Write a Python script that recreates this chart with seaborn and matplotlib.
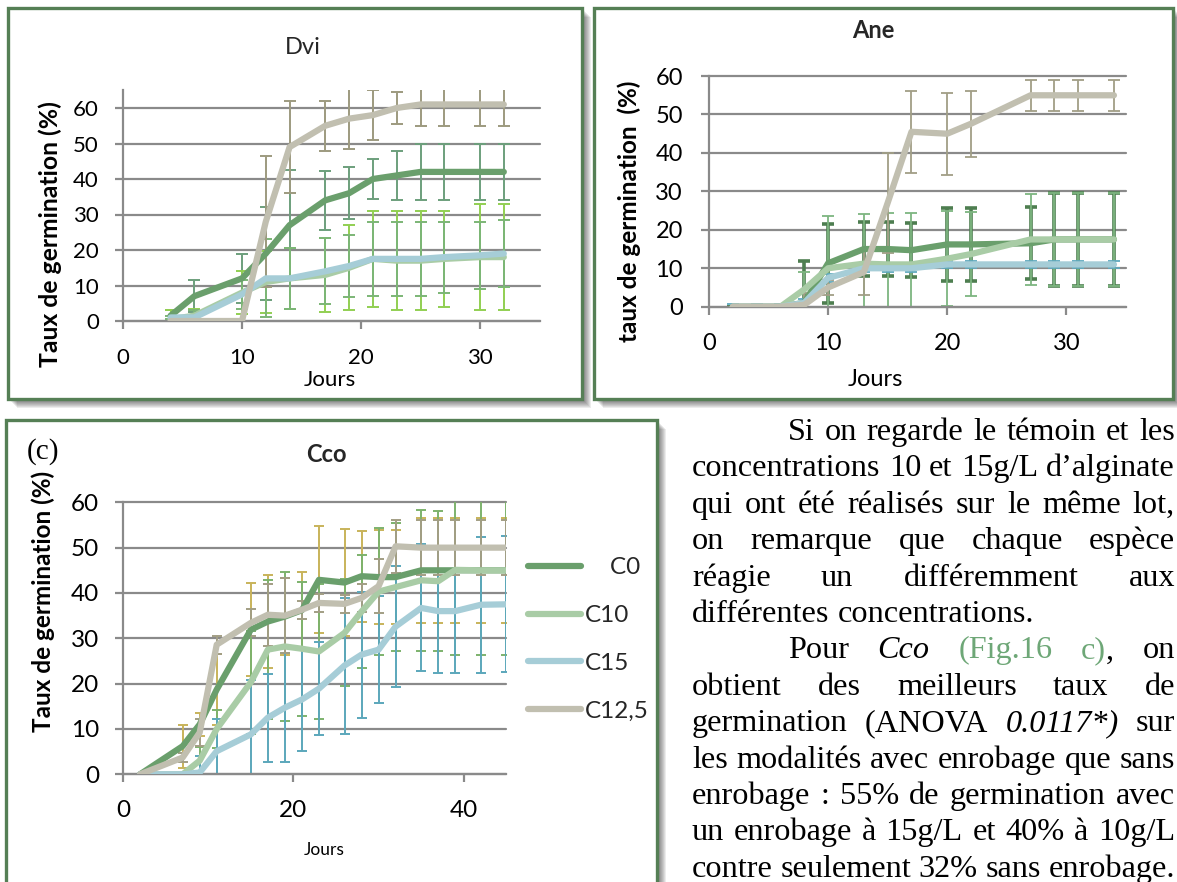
import re
import pandas as pd
import seaborn as sns
import matplotlib
matplotlib.use('Agg')
from matplotlib import pyplot as plt
from matplotlib.patches import Rectangle

W, H = 1177, 882

# ---------------- data ----------------
series = ['C0', 'C10', 'C15', 'C12,5']

# Dvi
dvi_days = [4, 6, 10, 12, 14, 17, 19, 21, 23, 25, 27, 30, 32]
dvi_c0 = [1.5, 7, 12, 19, 27, 34, 36, 40, 41, 42, 42, 42, 42]
dvi_c0_err = [1.5, 4.5, 7, 13, 15.5, 8.3, 7.3, 5.6, 6.8, 7.8, 7.8, 7.8, 7.8]
dvi_c10 = [0.5, 1.5, 8, 11, 12, 13, 15, 17.5, 17, 17, 17.5, 18, 18]
dvi_c10_err = [2.5, 2, 6, 8.7, 8.6, 10.5, 12, 13.5, 14, 14, 13.5, 15, 15]
dvi_c15 = [1, 1, 7.5, 12, 12, 14, 15.5, 17.5, 17.5, 17.5, 18, 18.5, 19]
dvi_c15_err = [0.5, 2, 4, 11, 8.6, 9.3, 8.6, 10.5, 10.5, 10.5, 10, 9.5, 9.5]
dvi_c125 = [0, 0, 0, 28, 49, 55, 57, 58, 60, 61, 61, 61, 61]
dvi_c125_err = [0, 0, 0, 18.5, 13, 7, 8.5, 7, 4.5, 6, 6, 6, 6]

# Ane
ane_days = [2, 4, 6, 8, 10, 13, 15, 17, 20, 22, 27, 29, 31, 34]
ane_c0 = [0, 0, 0, 1, 11.3, 15, 15, 14.7, 16.2, 16.2, 16.5, 17.5, 17.5, 17.5]
ane_c0_err = [0, 0, 0, 11, 10.3, 7, 7, 7, 9.4, 9.4, 9.4, 12, 12, 12]
ane_c10 = [0, 0, 0, 4.5, 10, 11.2, 11, 11, 12.5, 13.7, 17.5, 17.5, 17.5, 17.5]
ane_c10_err = [0, 0, 0, 4.5, 13.5, 13, 13.5, 13.5, 12.3, 11, 11.8, 12, 12, 12]
ane_c15 = [0, 0, 0, 1, 7.5, 10, 10, 10, 11, 11, 11, 11, 11, 11]
ane_c15_err = [0.8, 0.8, 0.8, 1, 1, 1, 1, 1, 1, 1, 1, 1, 1, 1]
ane_c125 = [0, 0, 0, 0.5, 5, 9, 27, 45.5, 45, 47.6, 55, 55, 55, 55]
ane_c125_err = [0, 0, 0, 3, 2, 6, 13, 10.7, 10.7, 8.6, 4, 4, 4, 4]

# Cco
cco_days = [2, 7, 9, 11, 15, 17, 19, 21, 23, 26, 28, 30, 32, 35, 37, 39, 42, 45]
cco_c0 = [0, 6.2, 11, 18.7, 31.9, 33.7, 34.8, 36.2, 42.9, 42.3, 43.7, 43.5, 43.5, 45, 45, 45, 45, 45]
cco_c0_err = [0, 4.7, 2.6, 7.8, 10.3, 10.3, 8.5, 8.5, 11.8, 11.9, 10, 10.3, 10.3, 11.6, 11.6, 11.6, 11.6, 11.6]
cco_c10 = [0, 0, 3, 10, 20.3, 27.5, 28.2, 27.7, 27.1, 31.2, 35.9, 40.3, 41.3, 42.8, 42.6, 45.1, 45, 45]
cco_c10_err = [0, 0, 3, 4.2, 11.4, 15.3, 16.5, 14.8, 14.8, 11.8, 12.5, 14, 14.2, 15.5, 15.5, 18.7, 18.7, 18.7]
cco_c15 = [0, 0, 0.4, 5.1, 8.8, 12.5, 14.7, 16.5, 18.9, 24, 26.4, 27.5, 32.6, 36.7, 36, 36, 37.4, 37.5]
cco_c15_err = [0, 0, 3.6, 7.2, 12, 9.7, 12, 11.3, 10.3, 15, 13.9, 11.8, 13.3, 14, 13.6, 13.6, 15, 15]
cco_c125 = [0, 3.7, 9.2, 28.6, 33.4, 35.2, 35, 36.3, 37.8, 37.6, 38.9, 41.5, 50.3, 50, 50, 50, 50, 50]
cco_c125_err = [0, 1, 3, 2, 3, 6.8, 8.2, 2, 2, 2, 3, 6, 5.8, 6, 6, 6, 6, 6]

para_lines = [
    "Si on regarde le témoin et les",
    "concentrations 10 et 15g/L d’alginate",
    "qui ont été réalisés sur le même lot,",
    "on remarque que chaque espèce",
    "réagie un différemment aux",
    "différentes concentrations.",
    "Pour _Cco_ {(Fig.16} {c)}, on",
    "obtient des meilleurs taux de",
    "germination (ANOVA _0.0117*)_ sur",
    "les modalités avec enrobage que sans",
    "enrobage : 55% de germination avec",
    "un enrobage à 15g/L et 40% à 10g/L",
    "contre seulement 32% sans enrobage.",
]

# ---------------- styling ----------------
line_colors = ['#6a9f6c', '#a9cca6', '#a6cdd7', '#c1bfb0']
GRID = '#8a8a8a'
FRAME = '#557f55'
TEXT_GREEN = '#6ea777'

sns.set_theme(style='white')
plt.rcParams['font.family'] = ['Lato', 'DejaVu Sans']


def long_frame(days, c0, c10, c15, c125):
    parts = [pd.DataFrame({'Jours': days, 'taux': vals, 'serie': name})
             for name, vals in zip(series, [c0, c10, c15, c125])]
    return pd.concat(parts, ignore_index=True)


def ax_rect(x0, x1, ytop, ybot):
    return [x0 / W, 1 - ybot / H, (x1 - x0) / W, (ybot - ytop) / H]


def panel_frame(bg, x0, y0, x1, y1):
    # soft grey drop shadow, then the framed white panel
    for k in range(1, 10):
        bg.add_patch(Rectangle((x0 + k, y0 + k), x1 - x0, y1 - y0,
                               facecolor='black', alpha=0.075, lw=0))
    bg.add_patch(Rectangle((x0, y0), x1 - x0, y1 - y0, facecolor='white',
                           edgecolor=FRAME, lw=2.4))


def draw_chart(ax, df, errs, err_styles, xlim, xticks, ylim, tick_size, pads):
    sns.lineplot(data=df, x='Jours', y='taux', hue='serie', hue_order=series,
                 palette=line_colors, linewidth=4.5, sort=False, estimator=None,
                 legend=False, ax=ax)
    lines = list(ax.lines)
    for ln in lines:
        ln.set_zorder(3)
        ln.set_solid_capstyle('round')
        ln.set_solid_joinstyle('round')
    for name, err, (col, lw, cap) in zip(series, errs, err_styles):
        sub = df[df['serie'] == name]
        ax.errorbar(sub['Jours'], sub['taux'], yerr=err, fmt='none', ecolor=col,
                    elinewidth=lw, capsize=cap, capthick=lw, zorder=2)
    ax.set_xlim(*xlim)
    ax.set_ylim(*ylim)
    ax.set_xticks(xticks)
    ax.set_yticks(range(0, 70, 10))
    ax.set_facecolor('none')
    for side in ('top', 'right'):
        ax.spines[side].set_visible(False)
    for side in ('left', 'bottom'):
        ax.spines[side].set_color(GRID)
        ax.spines[side].set_linewidth(1.6)
    ax.grid(axis='y', color=GRID, linewidth=1.6)
    for gl in ax.get_ygridlines():
        gl.set_clip_on(False)
    ax.tick_params(axis='both', which='major', direction='out', length=5.8, width=1.6,
                   color=GRID, labelsize=tick_size, labelcolor='black',
                   bottom=True, left=True)
    ax.tick_params(axis='y', pad=pads[0])
    ax.tick_params(axis='x', pad=pads[1])
    return lines


def place_labels(ax, bg, title, title_xy, title_kw, xlabel, xlabel_xy, xlabel_size,
                 ylabel, ylabel_xy, ylabel_size):
    t = ax.set_title(title, y=1.0, pad=0, va='center', **title_kw)
    t.set_transform(bg.transData)
    t.set_position(title_xy)
    ax.set_xlabel(xlabel, fontsize=xlabel_size, color='black')
    ax.xaxis.set_label_coords(*xlabel_xy, transform=bg.transData)
    ax.xaxis.label.set_va('center')
    ax.set_ylabel(ylabel, fontsize=ylabel_size, fontweight='bold', color='black')
    ax.yaxis.set_label_coords(*ylabel_xy, transform=bg.transData)
    ax.yaxis.label.set_va('center')


fig = plt.figure(figsize=(W / 100, H / 100), dpi=100)
fig.patch.set_facecolor('white')

bg = fig.add_axes([0, 0, 1, 1], zorder=0)
bg.set_xlim(0, W)
bg.set_ylim(H, 0)
bg.axis('off')

panel_frame(bg, 8, 8, 582, 399)
panel_frame(bg, 594, 8, 1173, 399)
panel_frame(bg, 6, 420, 657, 900)

# ---- Dvi ----
ax1 = fig.add_axes(ax_rect(123, 123 + 35 * 11.9, 321 - 65 * 3.55, 321), zorder=1)
draw_chart(ax1, long_frame(dvi_days, dvi_c0, dvi_c10, dvi_c15, dvi_c125),
           [dvi_c0_err, dvi_c10_err, dvi_c15_err, dvi_c125_err],
           [('#6d9f7c', 1.4, 4.3), ('#92cf52', 1.4, 4.3),
            ('#7cb676', 1.4, 4.3), ('#9d9a7f', 1.4, 4.3)],
           (0, 35), [0, 10, 20, 30], (0, 65), 16, (11.5, 13.5))
place_labels(ax1, bg, 'Dvi', (303, 48), dict(fontsize=17),
             'Jours', (330, 380), 16,
             'Taux de germination (%)', (50, 234), 17.8)

# ---- Ane ----
ax2 = fig.add_axes(ax_rect(709, 709 + 35 * 11.91, 306.7 - 60 * 3.844, 306.7), zorder=1)
draw_chart(ax2, long_frame(ane_days, ane_c0, ane_c10, ane_c15, ane_c125),
           [ane_c0_err, ane_c10_err, ane_c15_err, ane_c125_err],
           [('#4e7e50', 2.6, 4.3), ('#7db580', 1.3, 4.3),
            ('#5fa9be', 1.3, 4.3), ('#a19e86', 1.3, 4.3)],
           (0, 35), [0, 10, 20, 30], (0, 60), 17, (13, 13))
place_labels(ax2, bg, 'Ane', (873, 31), dict(fontsize=17, fontweight='bold'),
             'Jours', (875, 380), 17,
             'taux de germination  (%)', (629, 211), 17.5)

# ---- Cco ----
ax3 = fig.add_axes(ax_rect(123, 123 + 45 * 8.52, 774.3 - 60 * 4.533, 774.3), zorder=1)
cco_lines = draw_chart(ax3, long_frame(cco_days, cco_c0, cco_c10, cco_c15, cco_c125),
                       [cco_c0_err, cco_c10_err, cco_c15_err, cco_c125_err],
                       [('#c8b35a', 1.4, 3.8), ('#7db26c', 1.4, 3.8),
                        ('#5ba7bb', 1.4, 3.8), ('#a29e84', 1.4, 3.8)],
                       (0, 45), [0, 20, 40], (0, 60), 17.5, (11.5, 13))
place_labels(ax3, bg, 'Cco', (326, 455), dict(fontsize=17, fontweight='bold'),
             'Jours', (324, 850), 12.5,
             'Taux de germination (%)', (43, 601), 17.5)
ax3.legend(cco_lines, ['    C0', 'C10', 'C15', 'C12,5'], loc='center left',
           bbox_to_anchor=(528, 639.5), bbox_transform=bg.transData, frameon=False,
           fontsize=17.5, handlelength=2.2, handletextpad=0.15, labelspacing=1.1,
           borderpad=0, borderaxespad=0)
bg.text(43, 452, '(c)', family='Liberation Serif', fontsize=21,
        ha='center', va='center', color='black')

# ---- justified paragraph ----
renderer = fig.canvas.get_renderer()
PARA_SIZE = 23.2
LEFT, RIGHT, INDENT = 692, 1175, 788


def segment_props(seg):
    if seg.startswith('_') and seg.endswith('_'):
        return seg[1:-1], dict(style='italic', color='black')
    if seg.startswith('{') and seg.endswith('}'):
        return seg[1:-1], dict(style='normal', color=TEXT_GREEN)
    return seg, dict(style='normal', color='black')


def text_width(s, props):
    t = bg.text(0, 0, s, family='Liberation Serif', fontsize=PARA_SIZE, **props)
    w = t.get_window_extent(renderer).width
    t.remove()
    return w


for i, line in enumerate(para_lines):
    words = []
    for word in line.split(' '):
        segs = [segment_props(s) for s in re.findall(r'_[^_]+_|\{[^}]+\}|[^_{]+', word)]
        widths = [text_width(s, p) for s, p in segs]
        words.append((segs, widths))
    x_start = INDENT if i in (0, 6) else LEFT
    total = sum(sum(w) for _, w in words)
    if i == 5:
        gap = text_width('a a', {}) - text_width('aa', {})
    else:
        gap = (RIGHT - x_start - total) / (len(words) - 1)
    y = 440 + 36.4 * i
    x = x_start
    for segs, widths in words:
        for (s, props), w in zip(segs, widths):
            bg.text(x, y, s, family='Liberation Serif', fontsize=PARA_SIZE,
                    va='baseline', ha='left', **props)
            x += w
        x += gap

fig.savefig('out.png', dpi=100, facecolor='white')
